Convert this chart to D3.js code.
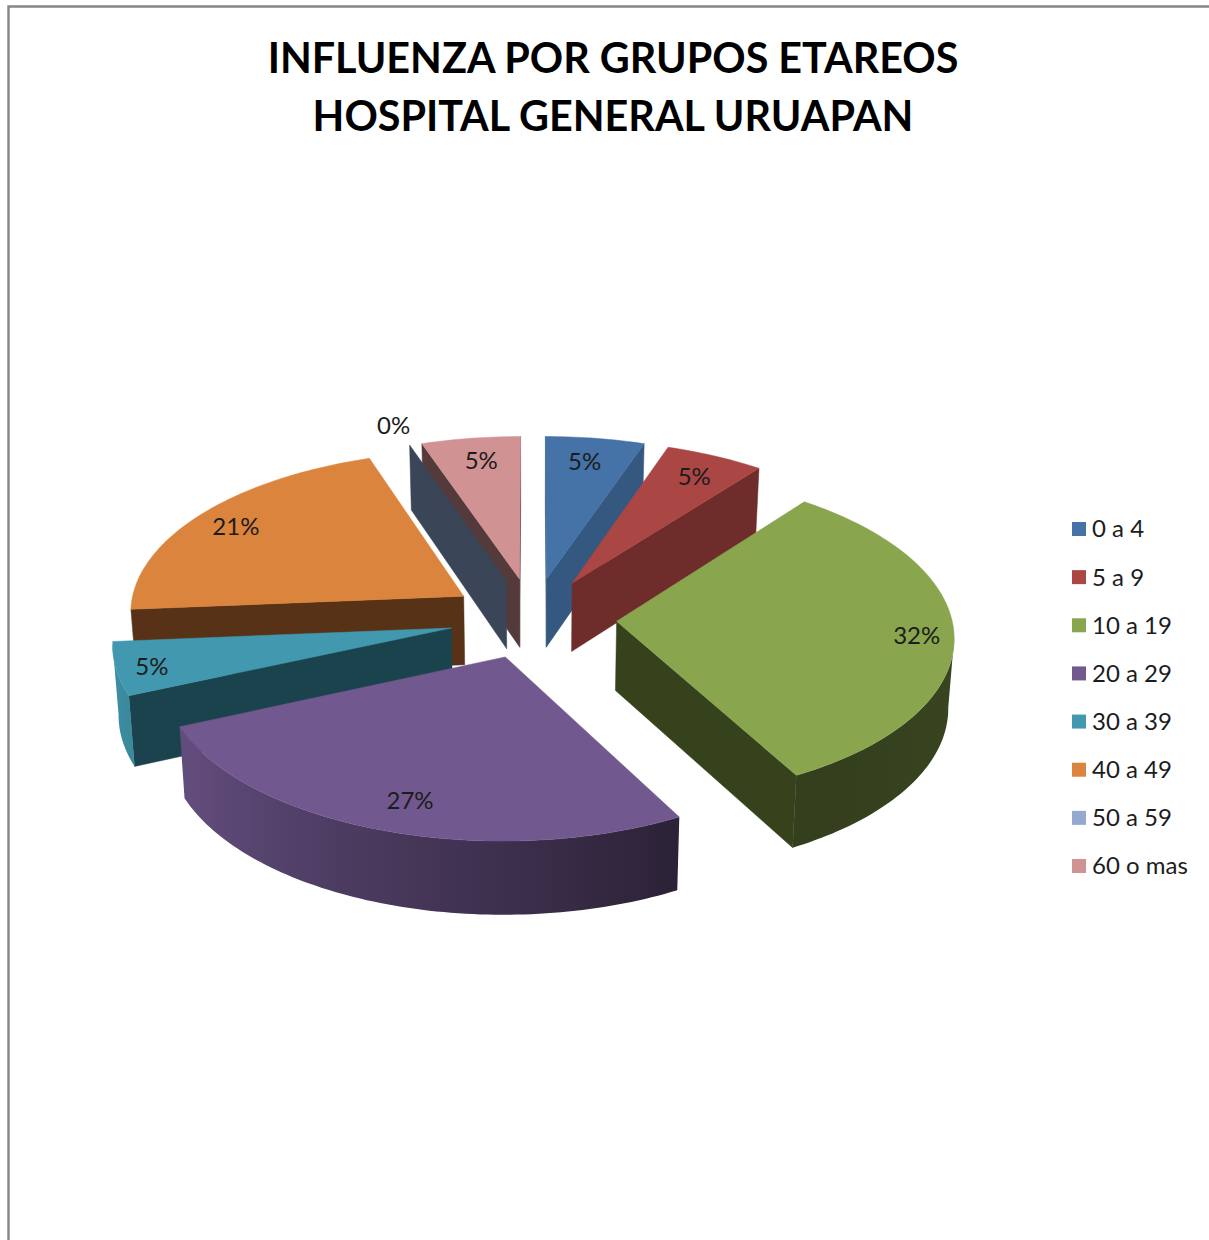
<!DOCTYPE html>
<html><head><meta charset="utf-8">
<script src="https://cdn.jsdelivr.net/npm/d3@7"></script>
<style>html,body{margin:0;padding:0;background:#fff}svg{display:block}</style>
</head><body><svg id="c" width="1209" height="1240"></svg>
<script>
// Data
const categories = ["0 a 4","5 a 9","10 a 19","20 a 29","30 a 39","40 a 49","50 a 59","60 o mas"];
const cases = [1,1,6,5,1,4,0,1];
const percentLabels = ["5%","5%","32%","27%","5%","21%","0%","5%"];
const titleLines = ["INFLUENZA POR GRUPOS ETAREOS","HOSPITAL GENERAL URUAPAN"];
// Styles
const topColors = ["#4572a7","#aa4643","#89a54e","#71588f","#4198af","#db843d","#93a9cf","#d09292"];
const cutColors = ["#355880","#6e2c2a","#36421c","#2c2238","#1a434d","#573217","#3a4557","#553a3c"];
const labelReach = [1.09,1.095,1.14,1.075,1.145,1.115,1.43,1.095];
const labelTurn = [-0.6,0,0,-0.8,0,0,0,0.6];

// Projection of the pie plane
const cx=533, cy=618, S=335, A=161.2, B=0.0861, explode=0.25;
const sx=d3.scaleLinear().domain([0,1]).range([0,S]);
const sy=d3.scaleLinear().domain([0,1]).range([0,A]);
const proj=(u,v)=>{const w=1-v*B;return {x:cx+sx(u)/w,y:cy+sy(v)/w,v};};
const low=p=>({x:cx+(p.x-cx)*0.986,y:p.y+69/(1-p.v*B*0.6)});
const rimShade=d3.scaleLinear().domain([90,151,250,262]).range([.42,.38,.92,.95]).clamp(true);
const line=d3.line().x(d=>d.x).y(d=>d.y);

const svg=d3.select("#c");
const defs=svg.append("defs");
svg.append("path").attr("d","M1209,6.5H8.5V1240").attr("fill","none").attr("stroke","#868686").attr("stroke-width",2.4);

const pie=d3.pie().sort(null).value(d=>d)(cases);
const slices=pie.map((a,i)=>{
  const mid=(a.startAngle+a.endAngle)/2;
  const ax=explode*Math.sin(mid), ay=-explode*Math.cos(mid);
  const n=Math.max(2,Math.ceil((a.endAngle-a.startAngle)/0.02));
  const arc=d3.range(n+1).map(k=>{
    const t=a.startAngle+(a.endAngle-a.startAngle)*k/n;
    const q=proj(ax+Math.sin(t),ay-Math.cos(t)); q.t=t; return q;
  });
  return {i,mid,a,ax,ay,apex:proj(ax,ay),arc};
}).sort((p,q)=>p.apex.y-q.apex.y);

const g=svg.append("g");
slices.forEach(s=>{
  const faces=g.append("g");
  const quad=(p,q,fill)=>faces.append("path").attr("d",line([p,q,low(q),low(p)])+"Z")
     .attr("fill",fill).attr("stroke",fill).attr("stroke-width",.5);
  const a0=s.arc[0], a1=s.arc[s.arc.length-1];
  // cut faces, only when turned toward the viewer
  if(a0.x<s.apex.x-0.5) quad(s.apex,a0,cutColors[s.i]);
  if(s.apex.x<a1.x-0.5) quad(a1,s.apex,cutColors[s.i]);
  // outer rim
  const vis=s.arc.filter((p,k)=>{
    const nb=s.arc[k+1]||null, pv=s.arc[k-1]||null;
    return (nb&&nb.x<p.x)||(pv&&p.x<pv.x);
  });
  if(vis.length>1 && s.a.endAngle>s.a.startAngle){
    const x0=d3.min(vis,p=>p.x), x1=d3.max(vis,p=>p.x);
    const id="rim"+s.i;
    const lg=defs.append("linearGradient").attr("id",id).attr("gradientUnits","userSpaceOnUse")
      .attr("x1",x0).attr("x2",x1).attr("y1",0).attr("y2",0);
    const base=d3.rgb(topColors[s.i]);
    const stops=vis.filter((p,k)=>k%6===0).slice().sort((p,q)=>p.x-q.x);
    stops.forEach(p=>{
      const f=rimShade(p.t*180/Math.PI);
      lg.append("stop").attr("offset",(p.x-x0)/(x1-x0))
        .attr("stop-color",d3.rgb(base.r*f,base.g*f,base.b*f).formatHex());
    });
    faces.append("path").attr("d",line(vis.concat(vis.map(low).reverse()))+"Z").attr("fill",`url(#${id})`);
  }
  // top
  if(s.a.endAngle>s.a.startAngle)
    g.append("path").attr("d",line([s.apex,...s.arc])+"Z").attr("fill",topColors[s.i])
      .attr("stroke",topColors[s.i]).attr("stroke-width",.5);
});

// Data labels
const font="Lato, Carlito, sans-serif";
const labels=svg.append("g").attr("font-family",font).attr("font-size",24).attr("fill","#1c1c1c").attr("text-anchor","middle");
pie.forEach((a,i)=>{
  const mid=(a.startAngle+a.endAngle)/2+labelTurn[i]*Math.PI/180, t=labelReach[i];
  const p=proj(t*Math.sin(mid),-t*Math.cos(mid));
  labels.append("text").attr("x",p.x).attr("y",p.y).attr("dy","0.45em").text(percentLabels[i]);
});

// Title
const title=svg.append("g").attr("font-family",font).attr("font-weight",700).attr("font-size",41.3).attr("fill","#000").attr("text-anchor","middle");
titleLines.forEach((t,i)=>title.append("text").attr("x",613).attr("y",73+i*57.5).text(t));

// Legend
const ly=d3.scalePoint().domain(categories).range([529,866]);
const legend=svg.append("g");
categories.forEach((c,i)=>{
  legend.append("rect").attr("x",1072).attr("y",ly(c)-7).attr("width",14).attr("height",14).attr("fill",topColors[i]);
  legend.append("text").attr("x",1092).attr("y",ly(c)).attr("dy","0.35em").attr("font-family",font).attr("font-size",24).attr("fill","#1c1c1c").text(c);
});
</script></body></html>
